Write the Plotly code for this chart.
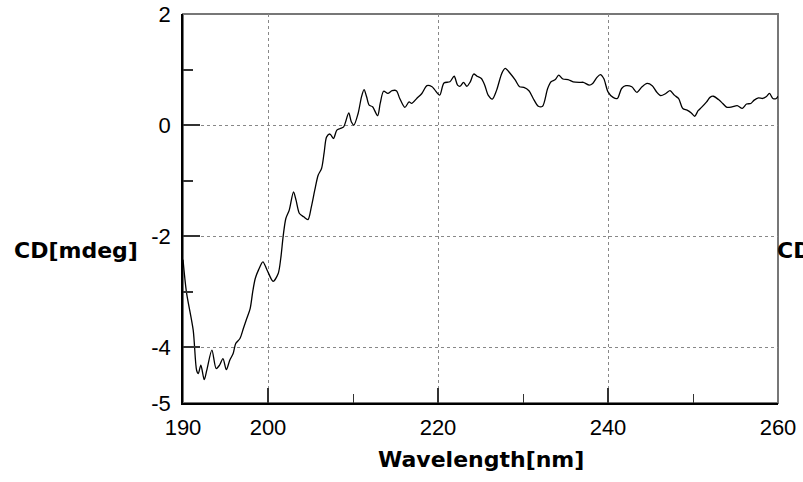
import plotly.graph_objects as go

wavelength = [190.0, 190.4, 191.2, 191.6, 191.8, 192.1, 192.5, 192.8, 193.4, 193.9, 194.3, 194.7,
              195.1, 195.5, 195.9, 196.2, 196.7, 197.1, 197.5, 197.9, 198.2, 198.5, 198.9, 199.4,
              199.9, 200.6, 201.2, 201.5, 201.8, 202.1, 202.5, 203.0, 203.3, 203.7, 204.2, 204.7,
              205.1, 205.5, 205.9, 206.3, 206.6, 206.9, 207.3, 207.7, 208.1, 208.5, 208.9, 209.5,
              209.8, 210.1, 210.6, 211.0, 211.3, 211.6, 211.9, 212.3, 212.9, 213.2, 213.6, 214.1,
              214.6, 215.1, 215.5, 216.1, 216.6, 216.9, 217.5, 218.1, 218.7, 219.3, 219.6, 220.2,
              220.7, 221.4, 221.9, 222.3, 222.6, 223.0, 223.4, 223.8, 224.2, 224.6, 225.1, 225.5,
              225.9, 226.4, 226.9, 227.5, 227.9, 228.5, 229.1, 229.6, 230.1, 230.7, 231.2, 231.8,
              232.3, 232.9, 233.3, 233.8, 234.2, 234.7, 235.3, 235.9, 236.7, 237.1, 237.8, 238.2,
              238.7, 239.1, 239.5, 240.0, 240.6, 241.1, 241.6, 242.1, 242.8, 243.4, 244.0, 244.6,
              245.2, 245.7, 246.2, 246.8, 247.3, 247.8, 248.3, 248.8, 249.3, 249.8, 250.2, 250.6,
              251.0, 251.6, 252.0, 252.4, 253.0, 253.5, 254.0, 254.6, 255.2, 255.8, 256.3, 256.8,
              257.2, 257.7, 258.2, 258.6, 259.0, 259.4, 259.8, 260.0]
cd_mdeg = [-2.42, -3.00, -3.69, -4.41, -4.47, -4.32, -4.58, -4.41, -4.05, -4.38, -4.32, -4.20,
           -4.40, -4.23, -4.11, -3.93, -3.84, -3.66, -3.48, -3.30, -3.00, -2.76, -2.60, -2.46,
           -2.61, -2.81, -2.67, -2.40, -1.98, -1.68, -1.53, -1.20, -1.35, -1.59, -1.65, -1.70,
           -1.47, -1.17, -0.90, -0.78, -0.50, -0.21, -0.16, -0.24, -0.09, -0.06, -0.03, 0.22,
           0.06, 0.00, 0.21, 0.51, 0.64, 0.51, 0.36, 0.33, 0.17, 0.39, 0.61, 0.57,
           0.62, 0.62, 0.48, 0.32, 0.42, 0.39, 0.48, 0.57, 0.71, 0.69, 0.64, 0.54,
           0.76, 0.78, 0.88, 0.72, 0.70, 0.77, 0.70, 0.78, 0.92, 0.88, 0.84, 0.72,
           0.54, 0.47, 0.63, 0.93, 1.02, 0.93, 0.81, 0.69, 0.68, 0.62, 0.48, 0.34,
           0.34, 0.66, 0.78, 0.82, 0.90, 0.83, 0.82, 0.78, 0.77, 0.77, 0.72, 0.75,
           0.86, 0.91, 0.84, 0.60, 0.50, 0.48, 0.66, 0.71, 0.69, 0.59, 0.69, 0.75,
           0.71, 0.60, 0.53, 0.57, 0.62, 0.54, 0.48, 0.30, 0.27, 0.22, 0.16, 0.26,
           0.32, 0.42, 0.50, 0.52, 0.46, 0.39, 0.32, 0.33, 0.35, 0.30, 0.38, 0.39,
           0.45, 0.49, 0.48, 0.51, 0.57, 0.48, 0.48, 0.52]

x_ticks = [190, 200, 220, 240, 260]
x_minor_ticks = [210, 230, 250]
y_ticks = [2, 0, -2, -4, -5]
y_minor_ticks = [1, -1, -3]
x_title = "Wavelength[nm]"
y_title = "CD[mdeg]"

fig = go.Figure()
fig.add_trace(go.Scatter(x=wavelength, y=cd_mdeg, mode="lines",
                         line=dict(color="black", width=1.3, shape="spline", smoothing=0.8),
                         showlegend=False, hoverinfo="skip"))

tickfont = dict(family="Liberation Sans, Arial", size=22, color="black")
titlefont = dict(family="DejaVu Sans", size=22, color="black", weight="bold")

fig.update_layout(
    width=803, height=482,
    margin=dict(l=183, r=25, t=14, b=79),
    paper_bgcolor="white", plot_bgcolor="white",
    shapes=[dict(type="rect", xref="paper", yref="paper", x0=0, x1=1, y0=0, y1=1,
                 line=dict(color="#777777", width=2), layer="below")],
    annotations=[
        dict(text=f"<b>{y_title}</b>", xref="paper", yref="paper", x=-0.18, y=0.393,
             xanchor="center", yanchor="middle", showarrow=False, font=titlefont),
        dict(text=f"<b>{y_title}</b>", xref="paper", yref="paper", x=0.995, y=0.393,
             xanchor="left", yanchor="middle", showarrow=False, font=titlefont),
        dict(text=f"<b>{x_title}</b>", xref="paper", yref="paper", x=0.5, y=-0.145,
             xanchor="center", yanchor="middle", showarrow=False, font=titlefont),
    ],
)

fig.update_xaxes(
    range=[190, 260], tickmode="array", tickvals=x_ticks, ticktext=[str(v) for v in x_ticks],
    ticks="inside", ticklen=15, tickcolor="#333333", tickwidth=1.5,
    showline=True, linecolor="black", linewidth=1.5, mirror=False, automargin=False,
    showgrid=True, gridcolor="#888888", griddash="dot", gridwidth=1,
    zeroline=False, tickfont=tickfont, ticklabelstandoff=4,
    minor=dict(tickmode="array", tickvals=x_minor_ticks, ticks="inside", ticklen=9,
               tickcolor="#333333", tickwidth=1, showgrid=False),
)
fig.update_yaxes(
    range=[-5, 2], tickmode="array", tickvals=y_ticks, ticktext=[str(v) for v in y_ticks],
    ticks="inside", ticklen=17, tickcolor="#333333", tickwidth=2,
    showline=True, linecolor="black", linewidth=1.5, mirror=False, automargin=False,
    showgrid=True, gridcolor="#888888", griddash="dot", gridwidth=1,
    zeroline=False, tickfont=tickfont, ticklabelstandoff=6,
    minor=dict(tickmode="array", tickvals=y_minor_ticks, ticks="inside", ticklen=10,
               tickcolor="#333333", tickwidth=1.5, showgrid=False),
)

fig.write_html("out.html")
